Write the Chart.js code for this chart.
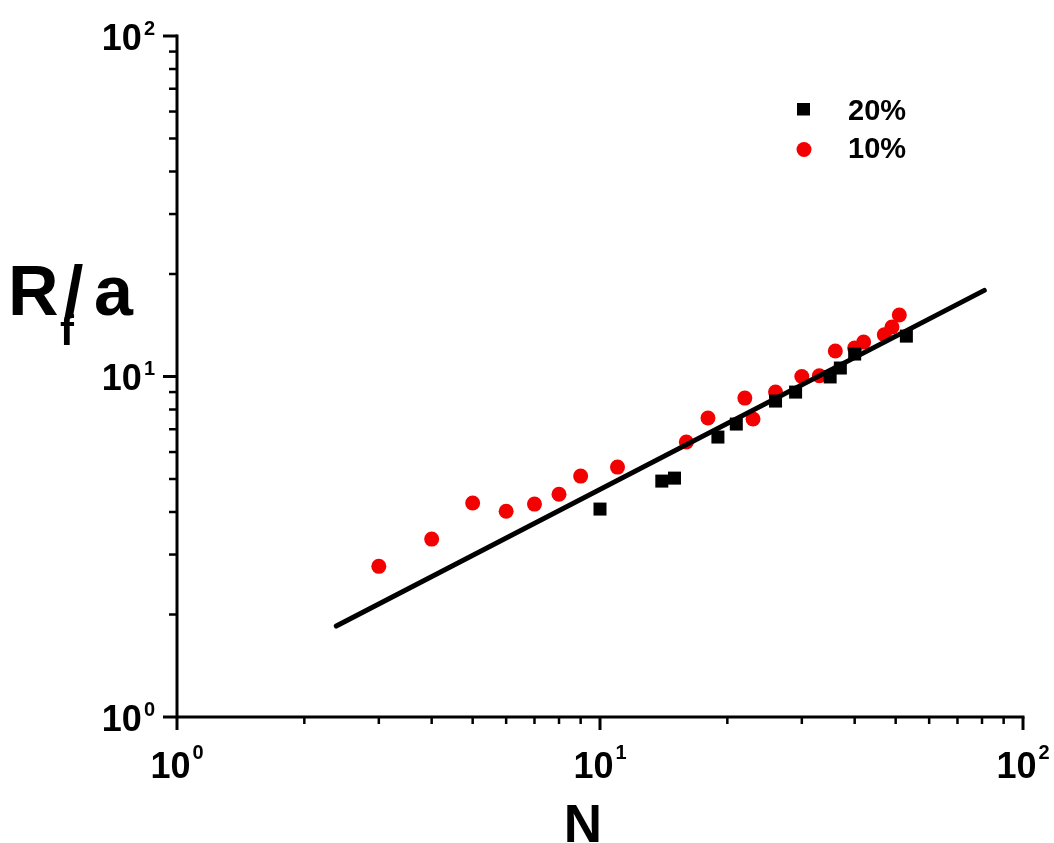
<!DOCTYPE html>
<html>
<head>
<meta charset="utf-8">
<script src="https://cdn.jsdelivr.net/npm/chart.js@4.4.1/dist/chart.umd.min.js"></script>
<style>
html,body{margin:0;padding:0;background:#fff;}
canvas{display:block;}
</style>
</head>
<body>
<canvas id="c" width="1054" height="843"></canvas>
<script>
// ---- data ----
const n20 = [10, 14, 15, 19, 21, 26, 29, 35, 37, 40, 53];
const r20 = [4.08, 4.93, 5.03, 6.64, 7.25, 8.47, 9.0, 9.97, 10.59, 11.64, 13.14];
const n10 = [3, 4, 5, 6, 7, 8, 9, 11, 16, 18, 22, 23, 26, 30, 33, 36, 40, 42, 47, 49, 51];
const r10 = [2.77, 3.33, 4.25, 4.02, 4.22, 4.51, 5.10, 5.42, 6.42, 7.55, 8.64, 7.50, 9.0, 10.0, 10.05, 11.88, 12.12, 12.62, 13.26, 13.97, 15.15];
const fitN = [2.38, 81];
const fitR = [1.85, 17.9];
const majorTicks = [1, 10, 100];
const tickExponents = ['0', '1', '2'];
const legendLabels = ['20%', '10%'];
const xTitle = 'N';

const RED = 'rgb(243,0,0)';
const FONT = '"Liberation Sans", Arial, sans-serif';

const toXY = (xs, ys) => xs.map((x, i) => ({x: x, y: ys[i]}));

const decor = {
  id: 'decor',
  afterDraw(chart) {
    const ctx = chart.ctx;
    const xs = chart.scales.x, ys = chart.scales.y;
    const a = chart.chartArea;
    ctx.save();
    ctx.strokeStyle = '#000';
    ctx.fillStyle = '#000';
    ctx.lineCap = 'butt';
    // axis lines
    ctx.lineWidth = 3;
    ctx.beginPath();
    ctx.moveTo(a.left, a.top - 1.5);
    ctx.lineTo(a.left, a.bottom);
    ctx.lineTo(a.right + 1.5, a.bottom);
    ctx.stroke();
    // ticks
    for (let e = 0; e < 2; e++) {
      for (let m = 1; m <= 10; m++) {
        const v = m * Math.pow(10, e);
        const major = (m === 1 || m === 10);
        if (m === 10 && e === 0) continue;
        ctx.lineWidth = major ? 3 : 2.5;
        const px = xs.getPixelForValue(v);
        const py = ys.getPixelForValue(v);
        ctx.beginPath();
        ctx.moveTo(px, a.bottom);
        ctx.lineTo(px, a.bottom + (major ? 13 : 7));
        ctx.stroke();
        ctx.beginPath();
        ctx.moveTo(a.left, py);
        ctx.lineTo(a.left - (major ? 14 : 8), py);
        ctx.stroke();
      }
    }
    // tick labels
    const bigF = 'bold 36px ' + FONT, supF = 'bold 20px ' + FONT;
    ctx.textBaseline = 'alphabetic';
    ctx.textAlign = 'left';
    majorTicks.forEach((v, i) => {
      ctx.font = bigF; const w10 = ctx.measureText('10').width;
      ctx.font = supF; const ws = ctx.measureText(tickExponents[i]).width;
      const gap = 2;
      // y labels
      const py = ys.getPixelForValue(v);
      let x0 = 155 - (w10 + gap + ws);
      ctx.font = bigF; ctx.fillText('10', x0, py + 13.5);
      ctx.font = supF; ctx.fillText(tickExponents[i], x0 + w10 + gap, py - 1.5);
      // x labels
      const px = xs.getPixelForValue(v);
      x0 = px - (w10 + gap + ws) / 2;
      ctx.font = bigF; ctx.fillText('10', x0, 778);
      ctx.font = supF; ctx.fillText(tickExponents[i], x0 + w10 + gap, 759);
    });
    // axis titles
    ctx.font = 'bold 53px ' + FONT;
    ctx.textAlign = 'center';
    ctx.fillText(xTitle, 583, 842);
    ctx.textAlign = 'left';
    ctx.font = 'bold 70px ' + FONT;
    ctx.fillText('R', 8, 315);
    ctx.fillText('/', 64, 315);
    ctx.fillText('a', 94, 315);
    ctx.font = 'bold 42px ' + FONT;
    ctx.fillText('f', 60, 345);
    // legend
    ctx.fillStyle = '#000';
    ctx.fillRect(797, 103, 13, 12.5);
    ctx.fillStyle = RED;
    ctx.beginPath();
    ctx.arc(804, 149.5, 7.5, 0, Math.PI * 2);
    ctx.fill();
    ctx.fillStyle = '#000';
    ctx.font = 'bold 29px ' + FONT;
    ctx.fillText(legendLabels[0], 848, 120);
    ctx.fillText(legendLabels[1], 848, 158);
    ctx.restore();
  }
};

new Chart(document.getElementById('c'), {
  type: 'scatter',
  data: {
    datasets: [
      {
        type: 'line', label: 'fit', data: toXY(fitN, fitR), order: 0,
        borderColor: '#000', borderWidth: 5, borderCapStyle: 'round',
        pointRadius: 0, fill: false, showLine: true
      },
      {
        label: legendLabels[0], data: toXY(n20, r20), order: 1,
        pointStyle: 'rect', pointRadius: 9.2, pointHoverRadius: 9.2,
        backgroundColor: '#000', borderColor: '#000', borderWidth: 0
      },
      {
        label: legendLabels[1], data: toXY(n10, r10), order: 2,
        pointStyle: 'circle', pointRadius: 7.5, pointHoverRadius: 7.5,
        backgroundColor: RED, borderColor: RED, borderWidth: 0
      }
    ]
  },
  options: {
    responsive: false,
    animation: false,
    devicePixelRatio: 1,
    layout: {padding: {left: 177, right: 31, top: 36, bottom: 126}},
    plugins: {legend: {display: false}, tooltip: {enabled: false}},
    scales: {
      x: {
        type: 'logarithmic', min: 1, max: 100, position: 'bottom',
        ticks: {display: false}, grid: {display: false}, border: {display: false},
        afterFit: s => { s.height = 0; }
      },
      y: {
        type: 'logarithmic', min: 1, max: 100, position: 'left',
        ticks: {display: false}, grid: {display: false}, border: {display: false},
        afterFit: s => { s.width = 0; }
      }
    }
  },
  plugins: [decor]
});
</script>
</body>
</html>
